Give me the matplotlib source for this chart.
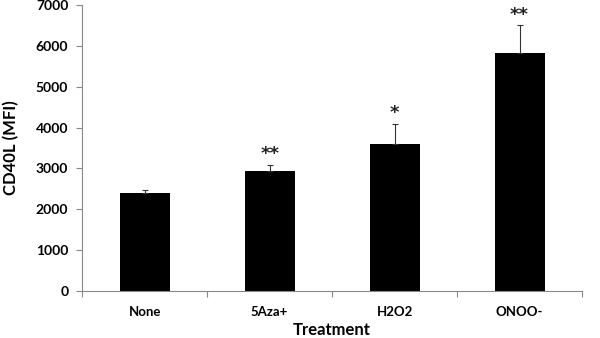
import numpy as np
import matplotlib.pyplot as plt

treatments = ['None', '5Aza+', 'H2O2', 'ONOO-']
means = [2390, 2940, 3600, 5820]
errors = [90, 150, 490, 680]
stars = ['', '**', '*', '**']

plt.rcParams['font.family'] = ['Lato', 'DejaVu Sans']

fig = plt.figure(figsize=(6, 3.38), dpi=100)
ax = fig.add_axes([0.137, 0.139, 0.833, 0.846])

x = np.arange(len(treatments))
ax.bar(x, means, width=0.4, color='black', zorder=2)
ax.errorbar(x, means, yerr=[np.zeros(len(errors)), errors], fmt='none',
            ecolor='#333333', elinewidth=0.8, capsize=2.5, capthick=0.8, zorder=3)

for xi, m, e, s in zip(x, means, errors, stars):
    if s:
        ax.text(xi, m + e + 40, s, ha='center', va='bottom',
                fontsize=13, fontweight='bold', color='#222222',
                family='DejaVu Sans')

ax.set_xlim(-0.5, len(treatments) - 0.5)
ax.set_ylim(0, 7000)
ax.set_yticks(np.arange(0, 7001, 1000))
ax.set_xticks(np.arange(-0.5, len(treatments)), minor=False)
ax.set_xticklabels([])
ax.set_xticks(x, minor=True)
ax.set_xticklabels(treatments, minor=True)
ax.tick_params(axis='x', which='minor', length=0, pad=11, labelsize=9.5)
ax.tick_params(axis='x', which='major', length=4, color='#888888', direction='out')
ax.tick_params(axis='y', length=4, color='#888888', labelsize=10, pad=6)
for lbl in ax.get_xticklabels(minor=True) + ax.get_yticklabels():
    lbl.set_fontweight('bold')

for side in ['top', 'right']:
    ax.spines[side].set_visible(False)
for side in ['left', 'bottom']:
    ax.spines[side].set_color('#888888')
    ax.spines[side].set_linewidth(0.8)

ax.set_ylabel('CD40L (MFI)', fontsize=12, fontweight='bold', labelpad=12)
ax.set_xlabel('Treatment', fontsize=12, fontweight='bold', labelpad=3)

fig.savefig('out.png', dpi=100)
